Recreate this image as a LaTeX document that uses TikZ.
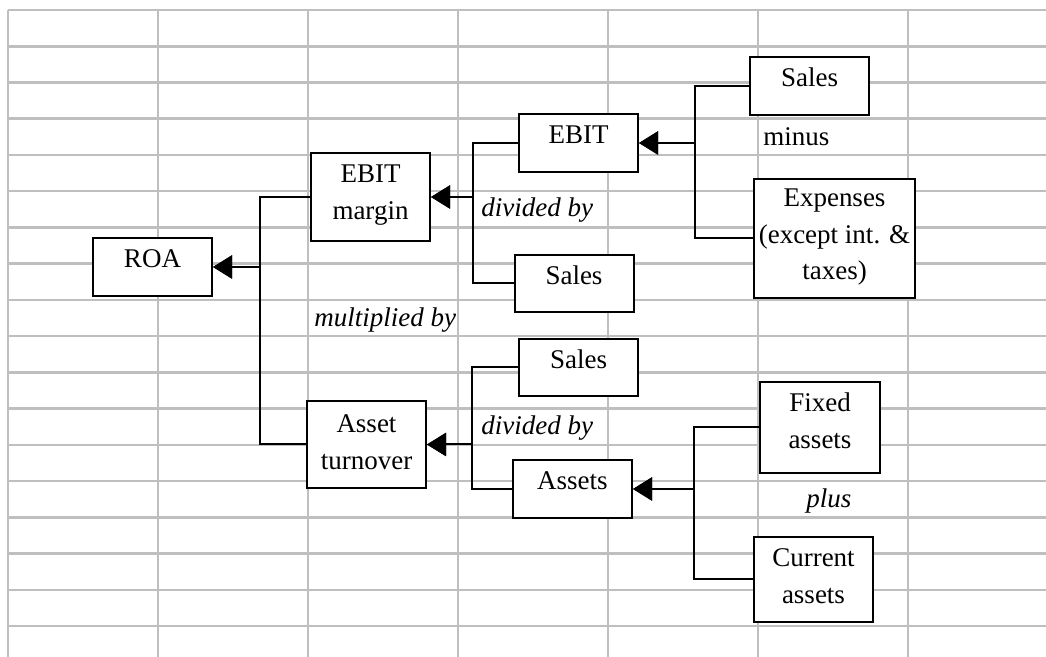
\documentclass[tikz,border=0pt]{standalone}
\usepackage{fontspec}
\setmainfont{Liberation Serif}
\usetikzlibrary{arrows.meta}

\begin{document}
\begin{tikzpicture}[x=0.5pt,y=-0.5pt,
    every node/.style={font=\fontsize{13.5}{18.25}\selectfont},
    gridline/.style={draw=black!25, line width=1.3pt},
    box/.style={draw, line width=1pt, fill=white, inner sep=0pt, align=center,
      minimum width=59.5pt, text height=15pt, text depth=14pt},
    note/.style={anchor=base west, inner sep=0pt},
    op/.style={note, font=\fontsize{13.5}{18.25}\selectfont\itshape},
    link/.style={line width=1pt, -{Triangle[length=9.5pt,width=11.5pt]}}]
  \useasboundingbox (0,0) rectangle (1046,657);

  \foreach \gx in {8,158,...,908}
    \draw[gridline] (\gx,10) -- (\gx,657);
  \foreach \k in {0,...,17}
    \draw[gridline] (8,{10+36.24*\k}) -- (1046,{10+36.24*\k});

  \node[box] (roa) at (152.5,267) {ROA};
  \node[box, text height=33.25pt, text depth=10.75pt] (ebit-margin) at (370.5,197) {EBIT\\margin};
  \node[box, text height=34.25pt, text depth=9.25pt] (asset-turnover) at (366.5,444.5) {Asset\\turnover};
  \node[box] (ebit) at (578.5,143) {EBIT};
  \node[box, text depth=13.5pt] (sales-margin) at (574,283.5) {Sales};
  \node[box, text depth=13.5pt] (sales-turnover) at (578.5,367.5) {Sales};
  \node[box] (assets) at (572.5,489) {Assets};
  \node[box] (sales-ebit) at (809.5,86) {Sales};
  \node[box, minimum width=80.5pt, text height=50.5pt, text depth=9pt] (expenses) at (834.5,238.5) {Expenses\\(except int. \&\\taxes)};
  \node[box, minimum width=60pt, text height=33.25pt, text depth=12.25pt] (fixed-assets) at (820,427.5) {Fixed\\assets};
  \node[box, text height=33.25pt, text depth=9.25pt] (current-assets) at (813.5,579.5) {Current\\assets};

  \node[note] (minus) at (763,146) {minus};
  \node[op] (divided-margin) at (481,217) {divided by};
  \node[op] (multiplied) at (314,327) {multiplied by};
  \node[op] (divided-turnover) at (481,435) {divided by};
  \node[op] (plus) at (806,508) {plus};

  \coordinate (roa-join) at (260,267);
  \coordinate (margin-join) at (472.5,197);
  \coordinate (turnover-join) at (472,444.5);
  \coordinate (ebit-join) at (695,143);
  \coordinate (assets-join) at (694,489);

  \draw[link] (ebit-margin.west) -| (roa-join) -- (roa.east);
  \draw[link] (asset-turnover.west) -| (roa-join) -- (roa.east);
  \draw[link] (ebit.west) -| (margin-join) -- (ebit-margin.east);
  \draw[link] (sales-margin.west) -| (margin-join) -- (ebit-margin.east);
  \draw[link] (sales-turnover.west) -| (turnover-join) -- (asset-turnover.east);
  \draw[link] (assets.west) -| (turnover-join) -- (asset-turnover.east);
  \draw[link] (sales-ebit.west) -| (ebit-join) -- (ebit.east);
  \draw[link] (expenses.west) -| (ebit-join) -- (ebit.east);
  \draw[link] (fixed-assets.west) -| (assets-join) -- (assets.east);
  \draw[link] (current-assets.west) -| (assets-join) -- (assets.east);
\end{tikzpicture}
\end{document}
